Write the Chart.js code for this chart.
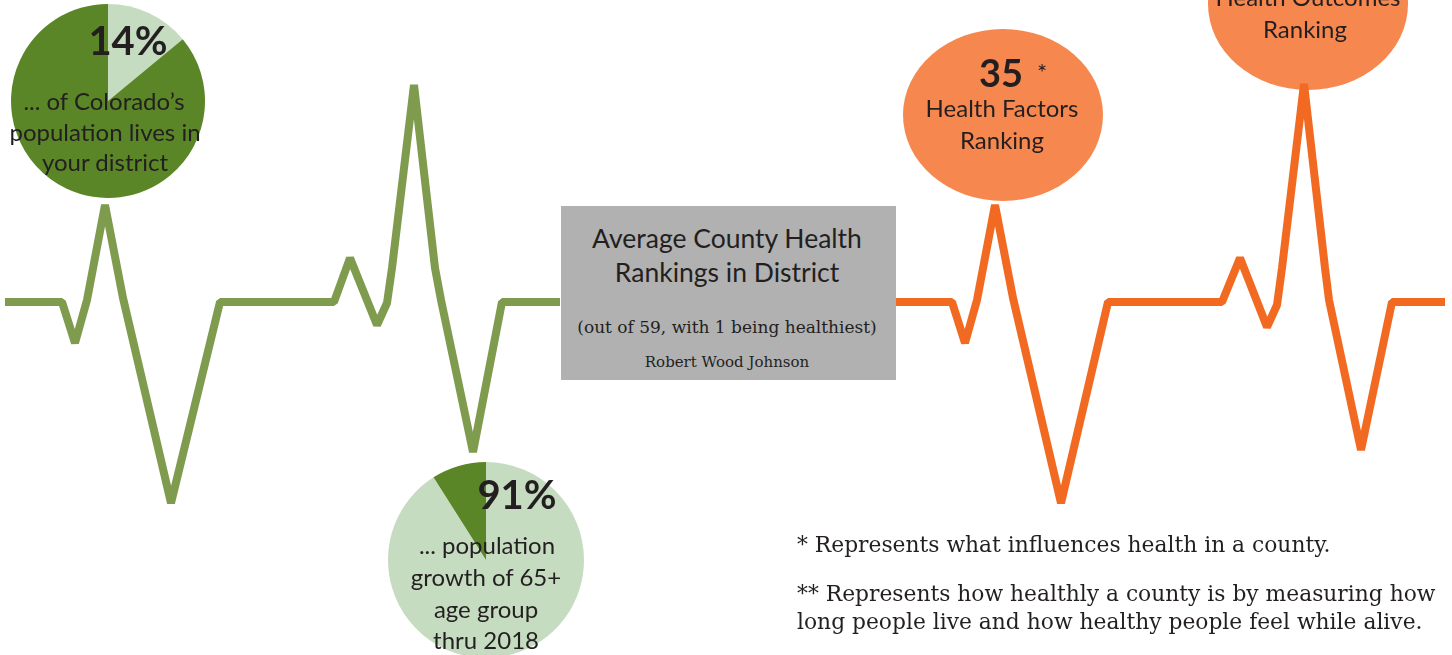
<!DOCTYPE html>
<html>
<head>
<meta charset="utf-8">
<script src="https://cdn.jsdelivr.net/npm/chart.js@4.4.0/dist/chart.umd.min.js"></script>
<style>
  html, body { margin: 0; padding: 0; background: #fff; }
  #wrap { position: relative; width: 1452px; height: 655px; overflow: hidden; }
  canvas { position: absolute; }
  .t { position: absolute; transform: translate(-50%, -50%); white-space: nowrap; color: #231f20;
       font-family: "Lato", "Open Sans", sans-serif; font-size: 24px; line-height: 1; }
  .b { font-weight: 700; }
  .s { font-family: "DejaVu Serif", "Liberation Serif", serif; }
  .l { transform: translate(0, -50%); }
  #box { position: absolute; left: 561px; top: 206px; width: 335px; height: 174px; background: #b1b1b1; }
</style>
</head>
<body>
<div id="wrap">
  <canvas id="line" width="1452" height="655" style="left:0;top:0"></canvas>
  <div id="box"></div>
  <canvas id="pieA" width="194" height="194" style="left:11px;top:4px"></canvas>
  <canvas id="pieB" width="196" height="196" style="left:388px;top:462px"></canvas>

  <div class="t b" style="left:128px;top:40px;font-size:40px">14%</div>
  <div class="t" style="left:104px;top:101px">... of Colorado’s</div>
  <div class="t" style="left:105px;top:132px">population lives in</div>
  <div class="t" style="left:105px;top:162px">your district</div>

  <div class="t b" style="left:517px;top:494px;font-size:40px">91%</div>
  <div class="t" style="left:487px;top:545px">... population</div>
  <div class="t" style="left:486px;top:577px">growth of 65+</div>
  <div class="t" style="left:486px;top:609px">age group</div>
  <div class="t" style="left:486px;top:640px">thru 2018</div>

  <div class="t" style="left:727px;top:238px;font-size:26.5px">Average County Health</div>
  <div class="t" style="left:727px;top:272px;font-size:26.5px">Rankings in District</div>
  <div class="t s" style="left:727px;top:327px;font-size:17px">(out of 59, with 1 being healthiest)</div>
  <div class="t s" style="left:727px;top:362px;font-size:15px">Robert Wood Johnson</div>

  <div class="t b" style="left:1001px;top:72px;font-size:38px">35</div>
  <div class="t" style="left:1042px;top:72px;font-size:24px">*</div>
  <div class="t" style="left:1002px;top:108px">Health Factors</div>
  <div class="t" style="left:1002px;top:140px">Ranking</div>

  <div class="t" style="left:1308px;top:-3px">Health Outcomes</div>
  <div class="t" style="left:1305px;top:29px">Ranking</div>

  <div class="t s l" style="left:797px;top:545px;font-size:21.8px">* Represents what influences health in a county.</div>
  <div class="t s l" style="left:797px;top:594px;font-size:21.8px">** Represents how healthly a county is by measuring how</div>
  <div class="t s l" style="left:797px;top:622px;font-size:21.8px">long people live and how healthy people feel while alive.</div>
</div>
<script>
// heartbeat traces (x position, amplitude above baseline)
var greenX = [5, 62, 75, 87, 105, 123, 171, 220, 334, 350, 377, 387, 392, 414, 435, 441, 473, 502, 560];
var greenAmp = [0, 0, -41, 2, 97, 4, -201, 0, 0, 44, -23, -1, 34, 217, 34, 2, -150, 0, 0];
var orangeX = [895, 952, 965, 977, 995, 1013, 1061, 1108, 1222, 1240, 1267, 1277, 1282, 1304, 1325, 1329, 1361, 1392, 1445];
var orangeAmp = [0, 0, -41, 2, 97, 4, -201, 0, 0, 44, -25, -3, 34, 218, 34, 2, -148, 0, 0];

// pie shares
var districtShare = [14, 86];
var growthShare = [91, 9];

function pts(xs, ys) {
  return xs.map(function (x, i) { return { x: x, y: ys[i] }; });
}

var ellipses = [
  { cx: 1003, cy: 115, rx: 100, ry: 86 },
  { cx: 1308, cy: 4, rx: 100, ry: 86 }
];

var bubblePlugin = {
  id: 'bubbles',
  beforeDatasetsDraw: function (chart) {
    var ctx = chart.ctx;
    ctx.save();
    ctx.fillStyle = '#f6884f';
    ellipses.forEach(function (e) {
      ctx.beginPath();
      ctx.ellipse(e.cx, e.cy, e.rx, e.ry, 0, 0, Math.PI * 2);
      ctx.fill();
    });
    ctx.restore();
  }
};

new Chart(document.getElementById('line'), {
  type: 'scatter',
  data: {
    datasets: [{
      data: pts(greenX, greenAmp),
      showLine: true,
      borderColor: '#7f9b4d',
      borderWidth: 8,
      borderJoinStyle: 'bevel',
      pointRadius: 0,
      tension: 0
    }, {
      data: pts(orangeX, orangeAmp),
      showLine: true,
      borderColor: '#f26a21',
      borderWidth: 8,
      borderJoinStyle: 'bevel',
      pointRadius: 0,
      tension: 0
    }]
  },
  options: {
    responsive: false,
    animation: false,
    devicePixelRatio: 1,
    layout: { padding: 0 },
    plugins: { legend: { display: false }, tooltip: { enabled: false } },
    scales: {
      x: { type: 'linear', min: 0, max: 1452, display: false },
      y: { type: 'linear', min: -353, max: 302, display: false }
    }
  },
  plugins: [bubblePlugin]
});

function pie(id, values, colors) {
  new Chart(document.getElementById(id), {
    type: 'pie',
    data: { labels: ['a', 'b'], datasets: [{ data: values, backgroundColor: colors, borderWidth: 0 }] },
    options: {
      responsive: false,
      animation: false,
      devicePixelRatio: 1,
      layout: { padding: 0 },
      events: [],
      plugins: { legend: { display: false }, tooltip: { enabled: false } }
    }
  });
}
pie('pieA', districtShare, ['#c6dcc1', '#5b8627']);
pie('pieB', growthShare, ['#c6dcc1', '#5b8627']);
</script>
</body>
</html>
